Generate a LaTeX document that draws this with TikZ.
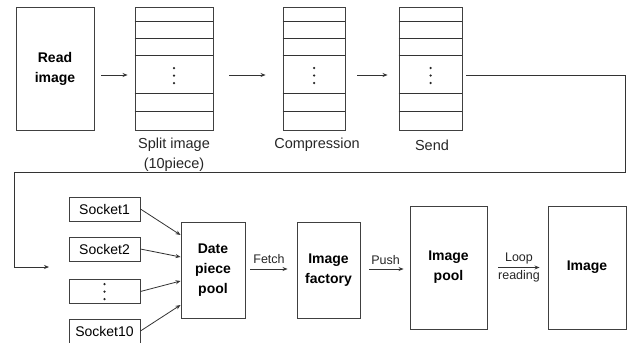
\documentclass[tikz,border=0pt]{standalone}
\usepackage{fontspec}
\setmainfont{Liberation Sans}
\usetikzlibrary{arrows.meta,positioning}
\tikzset{
  box/.style={draw=black!75, line width=0.9pt, rectangle, inner sep=0pt, align=center,
    font=\fontsize{14}{20}\selectfont\bfseries},
  sock/.style={draw=black!75, line width=0.9pt, rectangle, inner sep=0pt,
    minimum width=71pt, minimum height=24pt, font=\fontsize{14}{16}\selectfont},
  steplabel/.style={align=center, inner sep=0pt, font=\fontsize{14.5}{20}\selectfont, text=black!85},
  small/.style={inner sep=0pt, font=\fontsize{12.5}{14}\selectfont, text=black!85},
  flow/.style={draw=black!80, line width=0.8pt, -{Stealth[length=5pt,width=4pt]}},
  wire/.style={draw=black!80, line width=0.8pt},
  vdots/.style={fill=black!85, circle, inner sep=0pt, minimum size=2.5pt},
}
% horizontal rows and ellipsis dots inside a stacked box
\newcommand{\stackrows}[1]{%
  \draw[wire] ([yshift=-15pt]#1.north west) -- ([yshift=-15pt]#1.north east);
  \draw[wire] ([yshift=-32pt]#1.north west) -- ([yshift=-32pt]#1.north east);
  \draw[wire] ([yshift=-49pt]#1.north west) -- ([yshift=-49pt]#1.north east);
  \draw[wire] ([yshift=-87pt]#1.north west) -- ([yshift=-87pt]#1.north east);
  \draw[wire] ([yshift=-105pt]#1.north west) -- ([yshift=-105pt]#1.north east);
  \node[vdots] at ([yshift=0.5pt]#1.center) {};
  \node[vdots] at ([yshift=-7pt]#1.center) {};
  \node[vdots] at ([yshift=-14.5pt]#1.center) {};
}
\begin{document}
\begin{tikzpicture}[x=1pt,y=-1pt]
\useasboundingbox (0,0) rectangle (633,343);

% top row: reading and splitting
\node[box, minimum width=78pt, minimum height=123pt] (read) at (55,68.5) {Read\\image};
\node[box, minimum width=78pt, minimum height=123pt] (split) at (174,68.5) {};
\node[box, minimum width=62pt, minimum height=123pt] (comp) at (314,68.5) {};
\node[box, minimum width=63pt, minimum height=123pt] (send) at (430.5,68.5) {};
\stackrows{split}
\stackrows{comp}
\stackrows{send}

\node[steplabel] (splitlbl) at (174,155) {Split image\\(10piece)};
\node[steplabel] (complbl) at (317,145) {Compression};
\node[steplabel] (sendlbl) at (432,145) {Send};

\draw[flow] ([xshift=7pt,yshift=-6.5pt]read.east) -- ([xshift=-7pt,yshift=-6.5pt]split.west);
\draw[flow] ([xshift=16pt,yshift=-6.5pt]split.east) -- ([xshift=-17pt,yshift=-6.5pt]comp.west);
\draw[flow] ([xshift=12pt,yshift=-6.5pt]comp.east) -- ([xshift=-11pt,yshift=-6.5pt]send.west);

% long return wire to the second row
\coordinate (c1) at (625,75);
\coordinate (c2) at (625,172);
\coordinate (c3) at (14,172);
\coordinate (c4) at (14,267);
\coordinate (inlet) at (49,267);
\draw[wire] ([xshift=4pt,yshift=-6.5pt]send.east) -- (c1) -- (c2) -- (c3) -- (c4);
\draw[flow] (c4) -- (inlet);

% bottom row: sockets and pools
\node[sock] (s1) at (104.5,209) {Socket1};
\node[sock] (s2) at (104.5,249) {Socket2};
\node[sock] (s3) at (104.5,291.5) {};
\node[sock] (s10) at (104.5,331) {Socket10};
\node[vdots] at ([yshift=7.5pt]s3.center) {};
\node[vdots] at (s3.center) {};
\node[vdots] at ([yshift=-7.5pt]s3.center) {};

\node[box, minimum width=64pt, minimum height=96pt] (pool) at (213,270) {Date\\piece\\pool};
\node[box, minimum width=63pt, minimum height=96pt] (fact) at (328.5,270) {Image\\factory};
\node[box, minimum width=77pt, minimum height=123pt] (ipool) at (448.5,267.5) {Image\\pool};
\node[box, minimum width=78pt, minimum height=123pt] (img) at (587,267.5) {Image};

\draw[flow] (s1.east) -- ([yshift=35pt]pool.west);
\draw[flow] (s2.east) -- ([yshift=13pt]pool.west);
\draw[flow] (s3.east) -- ([yshift=-11pt]pool.west);
\draw[flow] (s10.east) -- ([yshift=-35pt]pool.west);

\draw[flow] ([xshift=5pt,yshift=1pt]pool.east) -- node[small, above=5pt] {Fetch} ([xshift=-9pt,yshift=1pt]pool.east -| fact.west);
\draw[flow] ([xshift=9pt,yshift=1pt]fact.east) -- node[small, above=4pt, xshift=-1pt] {Push} ([xshift=-6pt,yshift=1pt]fact.east -| ipool.west);
\draw[flow] ([xshift=11pt]ipool.east) -- node[small, above=3.5pt] {Loop} node[small, below=2.5pt] {reading} ([xshift=-8pt]img.west);
\end{tikzpicture}
\end{document}
